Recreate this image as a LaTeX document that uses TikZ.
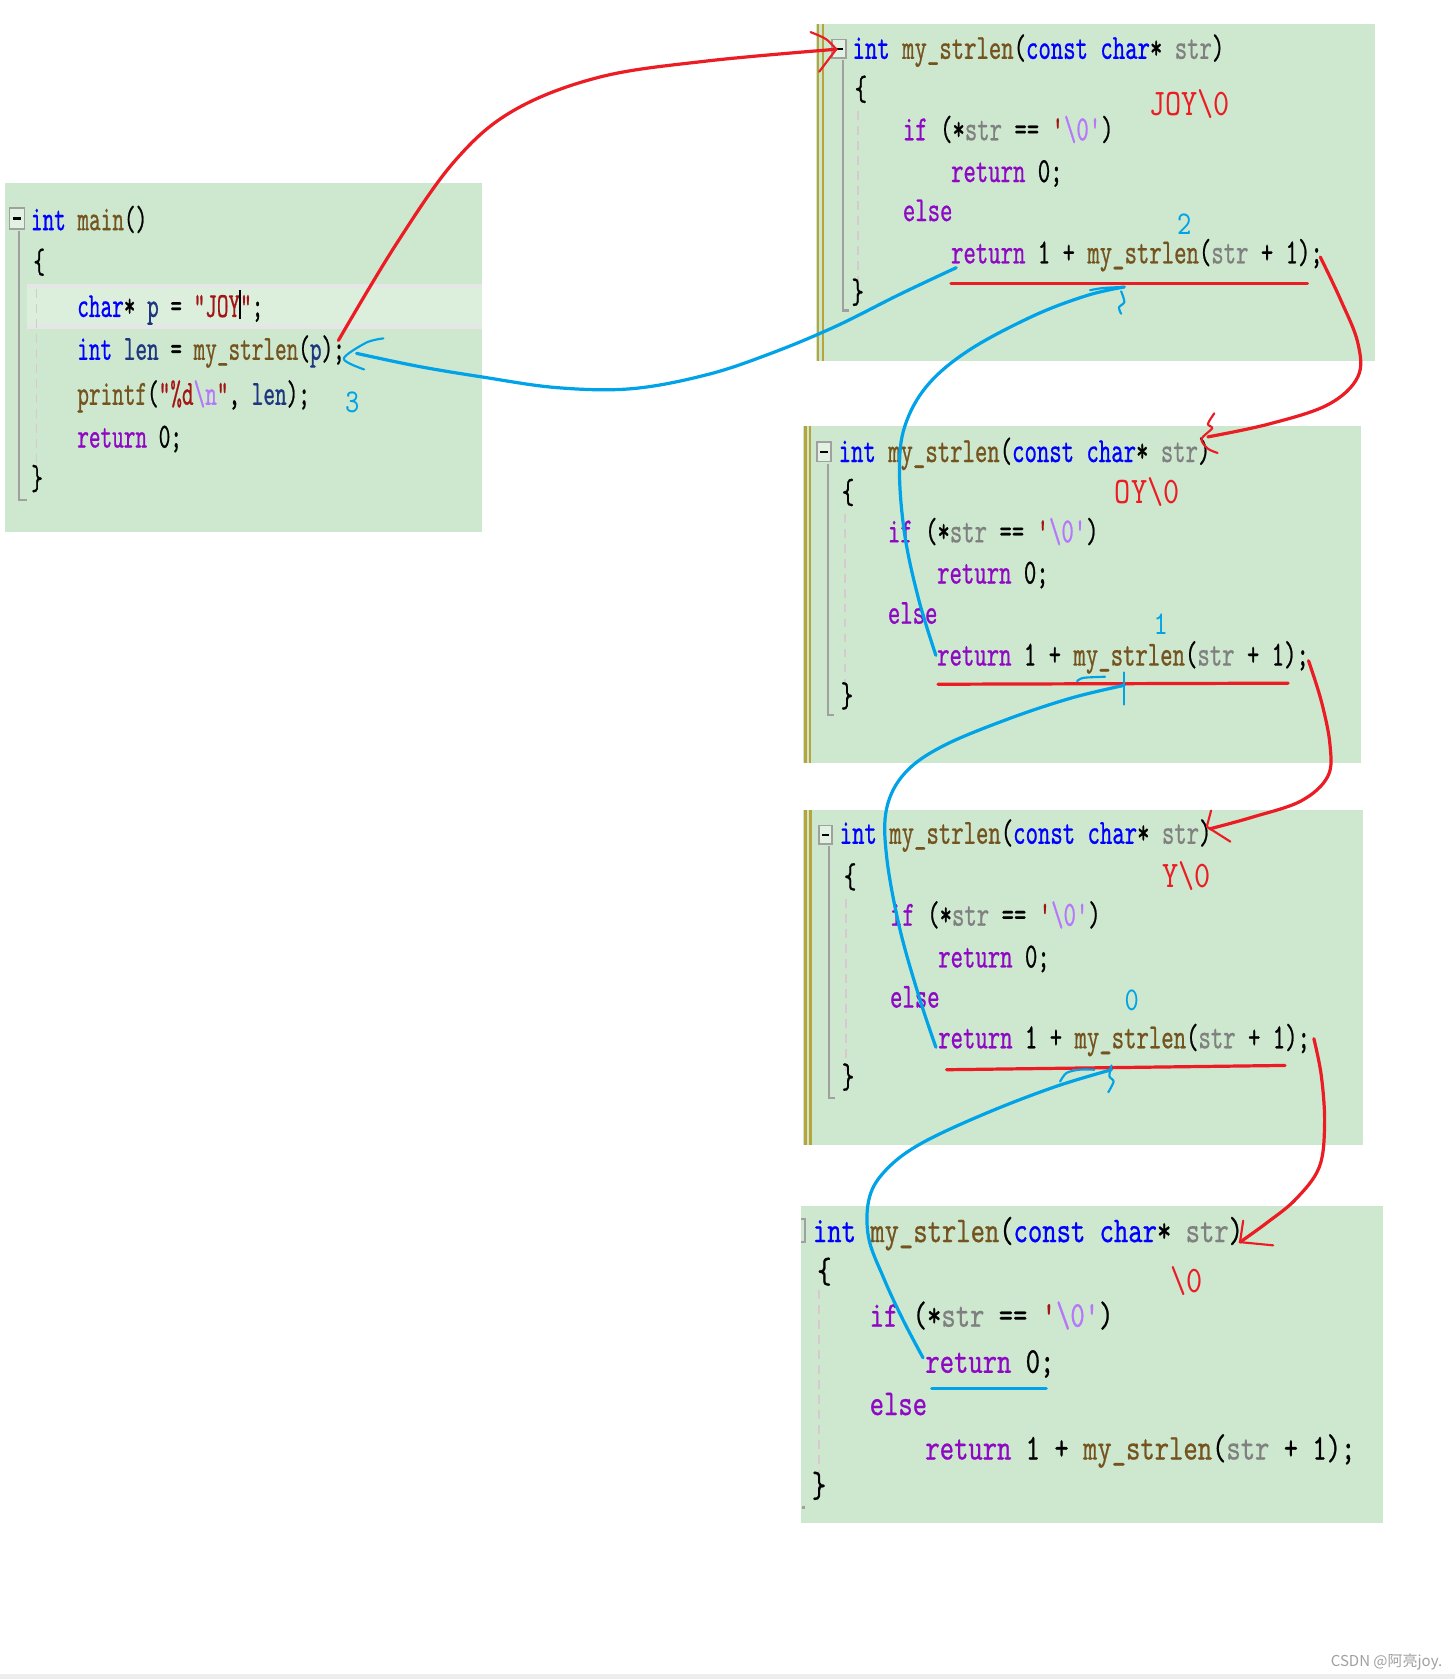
\documentclass[tikz,border=0pt]{standalone}
\usepackage{fontspec}
\setmainfont{Liberation Serif}
\newfontfamily\codeM[FakeStretch=0.627,FakeBold=0.6]{lmmono10-regular.otf}
\newfontfamily\codeB[FakeStretch=0.668,FakeBold=0.6]{lmmono10-regular.otf}
\newfontfamily\codeD[FakeStretch=0.75,FakeBold=0.6]{lmmono10-regular.otf}
\newfontfamily\codeL[FakeStretch=0.82]{lmmono10-regular.otf}
\newfontfamily\cjk{Noto Sans CJK SC}
\definecolor{bggreen}{RGB}{205,232,207}
\definecolor{hlgreen}{RGB}{220,239,221}
\definecolor{hlgray}{RGB}{228,231,229}
\definecolor{olive}{RGB}{184,164,60}
\definecolor{foldgray}{RGB}{160,160,160}
\definecolor{guide}{RGB}{215,200,210}
\definecolor{kwblue}{RGB}{0,0,255}
\definecolor{fnbrown}{RGB}{116,83,31}
\definecolor{ctlpurple}{RGB}{143,8,196}
\definecolor{pargray}{RGB}{128,128,128}
\definecolor{varnavy}{RGB}{31,55,127}
\definecolor{strred}{RGB}{163,21,21}
\definecolor{escpurple}{RGB}{183,118,251}
\definecolor{penred}{RGB}{236,28,36}
\definecolor{penblue}{RGB}{0,162,232}
\definecolor{wmgray}{RGB}{160,160,160}
\newcommand\ckw[1]{\textcolor{kwblue}{#1}}
\newcommand\cfn[1]{\textcolor{fnbrown}{#1}}
\newcommand\cctl[1]{\textcolor{ctlpurple}{#1}}
\newcommand\cpar[1]{\textcolor{pargray}{#1}}
\newcommand\cvar[1]{\textcolor{varnavy}{#1}}
\newcommand\cstr[1]{\textcolor{strred}{#1}}
\newcommand\cesc[1]{\textcolor{escpurple}{#1}}
\newcommand\hdr{\ckw{int} \cfn{my\_strlen}(\ckw{const} \ckw{char}* \cpar{str})}
\newcommand\ifl{\cctl{if} (*\cpar{str} == \cstr{'}\cesc{\textbackslash 0'})}
\newcommand\retz{\cctl{return} 0;}
\newcommand\retr{\cctl{return} 1 + \cfn{my\_strlen}(\cpar{str} + 1);}
\begin{document}
\begin{tikzpicture}[x=1pt,y=-1pt,
  txtmain/.style={anchor=base west,inner sep=0pt,font=\codeM\fontsize{33}{38}\selectfont},
  txtbox/.style={anchor=base west,inner sep=0pt,font=\codeB\fontsize{33}{38}\selectfont},
  txtlast/.style={anchor=base west,inner sep=0pt,font=\codeD\fontsize{34}{40}\selectfont},
  redlabel/.style={anchor=base west,inner sep=0pt,text=penred,font=\codeL\fontsize{35}{40}\selectfont},
  bluenum/.style={inner sep=0pt,text=penblue,font=\codeL\fontsize{31}{36}\selectfont},
  codebox/.style={fill=bggreen,draw=none},
  oliveline/.style={draw=olive,line width=2.5pt},
  foldline/.style={draw=foldgray,line width=2pt},
  guideline/.style={draw=guide,line width=1.5pt,dash pattern=on 8pt off 6pt},
  foldbox/.style={draw=foldgray,line width=1.5pt,fill=bggreen!60!white},
  redpen/.style={draw=penred,line width=3pt,line cap=round,line join=round},
  bluepen/.style={draw=penblue,line width=3pt,line cap=round,line join=round},
  thinred/.style={draw=penred,line width=2pt,line cap=round,line join=round},
  thinblue/.style={draw=penblue,line width=2pt,line cap=round,line join=round}]
\useasboundingbox (0,0) rectangle (1359,1568);
\fill[white] (0,0) rectangle (1359,1568);
\fill[black!7] (0,1563) rectangle (1359,1568);

% ---------------- main box ----------------
\path[codebox] (5,171) rectangle (450,497);
\fill[hlgray] (25,265) rectangle (450,307);
\fill[hlgreen] (25,269) rectangle (450,303);
\draw[foldbox] (9,194) rectangle (23,214);
\draw[line width=2pt] (12,204) -- (20,204);
\draw[foldline] (18,216) -- (18,467) -- (25,467);
\draw[guideline] (34,270) -- (34,432);
\node[txtmain] (m1) at (28.7,215) {\ckw{int} \cfn{main}()};
\node[txtmain] (m2) at (31,255) {\{};
\node[txtmain] (m3) at (72,296) {\ckw{char}* \cvar{p} = \cstr{"JOY}\makebox[0pt]{\rule[-2pt]{1.6pt}{27pt}}\cstr{"};};
\node[txtmain] (m4) at (72,336) {\ckw{int} \cvar{len} = \cfn{my\_strlen}(\cvar{p});};
\node[txtmain] (m5) at (72,378) {\cfn{printf}(\cstr{"\%d}\cesc{\textbackslash n}\cstr{"}, \cvar{len});};
\node[txtmain] (m6) at (72,418) {\retz};
\node[txtmain] (m7) at (29,457) {\}};
\node[bluenum] (n3) at (329,376) {3};

% ---------------- box 1 ----------------
\path[codebox] (762,22) rectangle (1284,337);
\draw[oliveline] (764,22) -- (764,337);
\draw[oliveline] (768.5,22) -- (768.5,337);
\draw[foldbox] (777,37) rectangle (790,54);
\draw[line width=2pt] (780,45.5) -- (787,45.5);
\draw[foldline] (787,56) -- (787,290) -- (793,290);
\draw[guideline] (801,104) -- (801,262);
\node[txtbox] (a1) at (796,55) {\hdr};
\node[txtbox] (a2) at (798,93.5) {\{};
\node[txtbox] (a3) at (843,131) {\ifl};
\node[txtbox] (a4) at (888,170) {\retz};
\node[txtbox] (a5) at (843,206.5) {\cctl{else}};
\node[txtbox] (a6) at (888,246) {\retr};
\node[txtbox] (a7) at (795,283) {\}};
\node[redlabel] (la) at (1073,107.5) {JOY\textbackslash 0};
\node[bluenum] (n2) at (1106,209) {2};

% ---------------- box 2 ----------------
\path[codebox] (750,398) rectangle (1271,713);
\draw[oliveline] (752,398) -- (752,713);
\draw[oliveline] (756.5,398) -- (756.5,713);
\draw[foldbox] (763,413) rectangle (776,431);
\draw[line width=2pt] (766,422) -- (773,422);
\draw[foldline] (773,433) -- (773,668) -- (779,668);
\draw[guideline] (789,480) -- (789,640);
\node[txtbox] (b1) at (783,431.5) {\hdr};
\node[txtbox] (b2) at (786,470) {\{};
\node[txtbox] (b3) at (829,506.5) {\ifl};
\node[txtbox] (b4) at (875,545) {\retz};
\node[txtbox] (b5) at (829,582.5) {\cctl{else}};
\node[txtbox] (b6) at (875,621.6) {\retr};
\node[txtbox] (b7) at (785,660) {\}};
\node[redlabel] (lb) at (1041,470) {OY\textbackslash 0};
\node[bluenum] (n1) at (1084,583) {1};

% ---------------- box 3 ----------------
\path[codebox] (750,756) rectangle (1273,1069);
\draw[oliveline] (752.5,756) -- (752.5,1069);
\draw[oliveline] (757,756) -- (757,1069);
\draw[foldbox] (765,771) rectangle (777,788);
\draw[line width=2pt] (768,779.5) -- (774,779.5);
\draw[foldline] (774,790) -- (774,1025) -- (780,1025);
\draw[guideline] (790,840) -- (790,1000);
\node[txtbox] (c1) at (784,788) {\hdr};
\node[txtbox] (c2) at (788,829) {\{};
\node[txtbox] (c3) at (831,864.5) {\ifl};
\node[txtbox] (c4) at (876,903.5) {\retz};
\node[txtbox] (c5) at (831,941) {\cctl{else}};
\node[txtbox] (c6) at (876,979) {\retr};
\node[txtbox] (c7) at (786,1016) {\}};
\node[redlabel] (lc) at (1085,829) {Y\textbackslash 0};
\node[bluenum] (n0) at (1057,934) {0};

% ---------------- box 4 ----------------
\path[codebox] (748,1126) rectangle (1292,1422);
\draw[foldline] (748,1138) -- (752,1138) -- (752,1160) -- (748,1160);
\draw[guideline] (765,1205) -- (765,1392);
\fill[foldgray] (749,1406) rectangle (752,1409);
\node[txtlast] (d1) at (759,1160) {\hdr};
\node[txtlast] (d2) at (763,1198) {\{};
\node[txtlast] (d3) at (812,1239) {\ifl};
\node[txtlast] (d4) at (864,1282) {\retz};
\node[txtlast] (d5) at (812,1321.5) {\cctl{else}};
\node[txtlast] (d6) at (864,1363) {\retr};
\node[txtlast] (d7) at (758,1398) {\}};
\node[redlabel] (ld) at (1093,1207) {\textbackslash 0};

% ---------------- underlines ----------------
\coordinate (u1a) at (888,265);  \coordinate (u1b) at (1221,265);
\coordinate (u2a) at (876,639);  \coordinate (u2b) at (1203,638);
\coordinate (u3a) at (884,999);  \coordinate (u3b) at (1200,995);
\coordinate (u4a) at (870,1297); \coordinate (u4b) at (977,1297);
\draw[redpen] (u1a) -- (u1b);
\draw[redpen] (u2a) -- (u2b);
\draw[redpen] (u3a) -- (u3b);
\draw[bluepen] (u4a) -- (u4b);

% ---------------- red calls ----------------
\coordinate (r1s) at (316,318);  \coordinate (r1e) at (781,46);
\coordinate (r2s) at (1233,240); \coordinate (r2e) at (1128,408);
\coordinate (r3s) at (1222,617); \coordinate (r3e) at (1130,774);
\coordinate (r4s) at (1227,970); \coordinate (r4e) at (1158,1160);
\draw[redpen] plot[smooth,tension=0.6] coordinates {(r1s) (370,228) (425,150) (480,103) (560,72) (660,57) (r1e)};
\draw[thinred] (757,30) .. controls (772,36) .. (r1e) .. controls (773,56) .. (765,67);
\draw[redpen] plot[smooth,tension=0.6] coordinates {(r2s) (1252,280) (1268,320) (1268,352) (1240,378) (1185,396) (r2e)};
\draw[thinred] plot[smooth,tension=0.5] coordinates {(1134,386) (1128,396) (1132,400) (1122,410) (1128,419) (1137,423)};
\draw[redpen] plot[smooth,tension=0.6] coordinates {(r3s) (1234,655) (1242,695) (1240,725) (1215,748) (1170,763) (r3e)};
\draw[thinred] (1131,757) -- (1127,772) -- (1149,786);
\draw[redpen] plot[smooth,tension=0.6] coordinates {(r4s) (1234,1005) (1237,1050) (1232,1090) (1210,1120) (1183,1142) (r4e)};
\draw[thinred] (1161,1140) -- (r4e) -- (1189,1163);

% ---------------- blue returns ----------------
\coordinate (bl1s) at (862,1268); \coordinate (bl1e) at (1038,999);
\coordinate (bl2s) at (874,978);  \coordinate (bl2e) at (1050,640);
\coordinate (bl3s) at (874,612);  \coordinate (bl3e) at (1050,268);
\coordinate (bl4s) at (893,250);  \coordinate (bl4e) at (333,330);
\draw[bluepen] plot[smooth,tension=0.6] coordinates {(bl1s) (843,1232) (825,1193) (811,1155) (812,1118) (828,1092) (860,1068) (920,1040) (985,1015) (bl1e)};
\draw[thinblue] plot[smooth] coordinates {(990,1010) (996,1002) (1008,999) (1022,999)};
\draw[thinblue] plot[smooth] coordinates {(1038,995) (1036,1005) (1040,1010) (1035,1020)};
\draw[bluepen] plot[smooth,tension=0.6] coordinates {(bl2s) (858,930) (840,866) (828,800) (828,755) (845,722) (880,697) (940,672) (1000,652) (bl2e)};
\draw[thinblue] (1050,628) -- (1050,658);
\draw[thinblue] plot[smooth] coordinates {(1006,636) (1012,633) (1032,632)};
\draw[bluepen] plot[smooth,tension=0.6] coordinates {(bl3s) (858,560) (845,500) (840,440) (845,398) (866,360) (905,327) (965,295) (1015,276) (bl3e)};
\draw[thinblue] plot[smooth] coordinates {(1018,271) (1030,269) (1048,268)};
\draw[thinblue] plot[smooth] coordinates {(1047,272) (1050,282) (1045,287) (1047,293)};
\draw[bluepen] plot[smooth,tension=0.6] coordinates {(bl4s) (840,275) (780,305) (720,330) (660,350) (590,363) (520,362) (450,352) (390,342) (bl4e)};
\draw[thinblue] plot[smooth,tension=0.5] coordinates {(358,316) (342,320) (321,335) (340,345)};

% ---------------- watermark ----------------
\node[anchor=east,inner sep=0pt,text=wmgray,font=\cjk\fontsize{14}{16}\selectfont] (wm) at (1347,1552) {CSDN @阿亮joy.};
\end{tikzpicture}
\end{document}
